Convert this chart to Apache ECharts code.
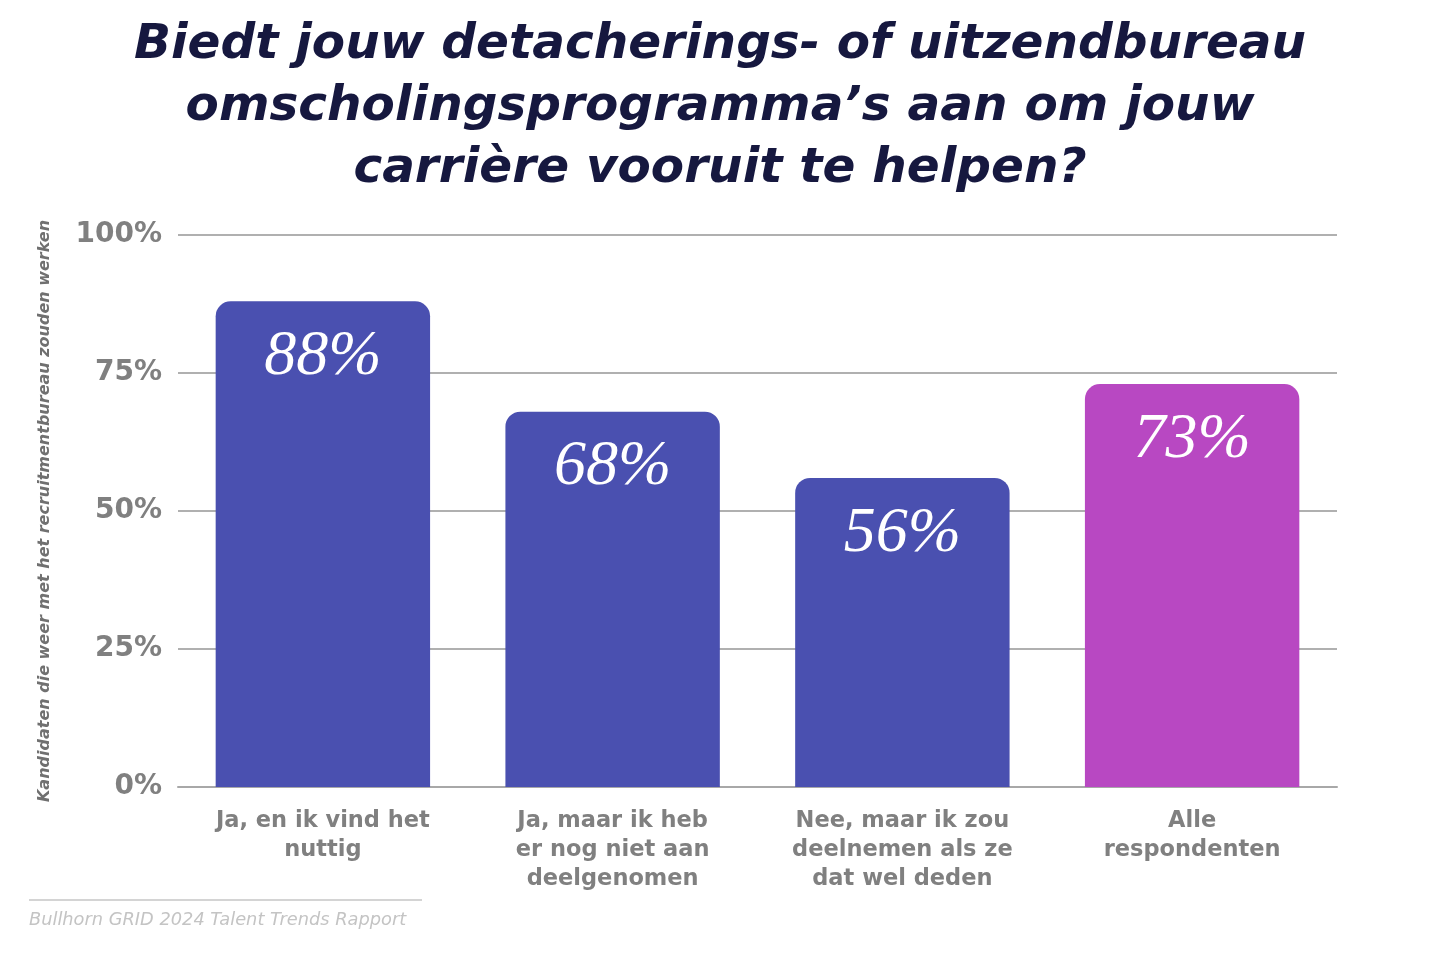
<!DOCTYPE html>
<html><head><meta charset="utf-8">
<script src="https://cdn.jsdelivr.net/npm/echarts@6/dist/echarts.min.js"></script>
<style>html,body{margin:0;padding:0;background:#fff}#c{width:1440px;height:956px}</style>
</head><body><div id="c"></div>
<script>
const titleText = "Biedt jouw detacherings- of uitzendbureau\nomscholingsprogramma’s aan om jouw\ncarrière vooruit te helpen?";
const categories = ["Ja, en ik vind het\nnuttig", "Ja, maar ik heb\ner nog niet aan\ndeelgenomen", "Nee, maar ik zou\ndeelnemen als ze\ndat wel deden", "Alle\nrespondenten"];
const values = [88, 68, 56, 73];
const barColors = ["#4A50B0", "#4A50B0", "#4A50B0", "#B848C2"];
const yTicks = [0, 25, 50, 75, 100];
const yAxisName = "Kandidaten die weer met het recruitmentbureau zouden werken";
const sourceText = "Bullhorn GRID 2024 Talent Trends Rapport";

const chart = echarts.init(document.getElementById('c'), null, {renderer: 'canvas'});
chart.setOption({
  backgroundColor: '#ffffff',
  animation: false,
  title: {
    text: titleText,
    left: 'center',
    top: 9,
    textStyle: {fontFamily: 'DejaVu Sans', fontSize: 48.5, fontWeight: 'bold', fontStyle: 'italic', color: '#16183F', lineHeight: 62}
  },
  grid: {left: 178, right: 103, top: 235, bottom: 169},
  xAxis: {
    type: 'category',
    data: categories,
    axisLine: {lineStyle: {color: '#a8a8a8', width: 2}},
    axisTick: {show: false},
    axisLabel: {fontFamily: 'DejaVu Sans', fontWeight: 'bold', fontSize: 22.5, color: '#808080', lineHeight: 29, margin: 20}
  },
  yAxis: {
    type: 'value',
    min: yTicks[0], max: yTicks[yTicks.length - 1], interval: 25,
    name: yAxisName,
    nameLocation: 'middle',
    nameGap: 125,
    nameTextStyle: {fontFamily: 'DejaVu Sans', fontWeight: 'bold', fontStyle: 'italic', fontSize: 16, color: '#707070'},
    axisLine: {show: false},
    axisTick: {show: false},
    splitLine: {lineStyle: {color: '#b0b0b0', width: 2}},
    axisLabel: {formatter: v => v + '%', fontFamily: 'DejaVu Sans', fontWeight: 'bold', fontSize: 28, color: '#808080', margin: 16}
  },
  series: [{
    type: 'bar',
    data: values.map((v, i) => ({value: v, itemStyle: {color: barColors[i]}})),
    barWidth: '74%',
    itemStyle: {borderRadius: [15, 15, 0, 0]},
    label: {
      show: true,
      position: 'insideTop',
      distance: 20,
      formatter: p => p.value + '%',
      fontFamily: 'Liberation Serif',
      fontStyle: 'italic',
      fontSize: 64,
      lineHeight: 72,
      color: '#ffffff'
    }
  }],
  graphic: [
    {type: 'line', shape: {x1: 29, y1: 900, x2: 422, y2: 900}, style: {stroke: '#d4d4d4', lineWidth: 2}},
    {type: 'text', left: 29, top: 911, style: {text: sourceText, fontFamily: 'DejaVu Sans', fontStyle: 'italic', fontSize: 17.8, fill: '#c4c4c4'}}
  ]
});
</script>
</body></html>
